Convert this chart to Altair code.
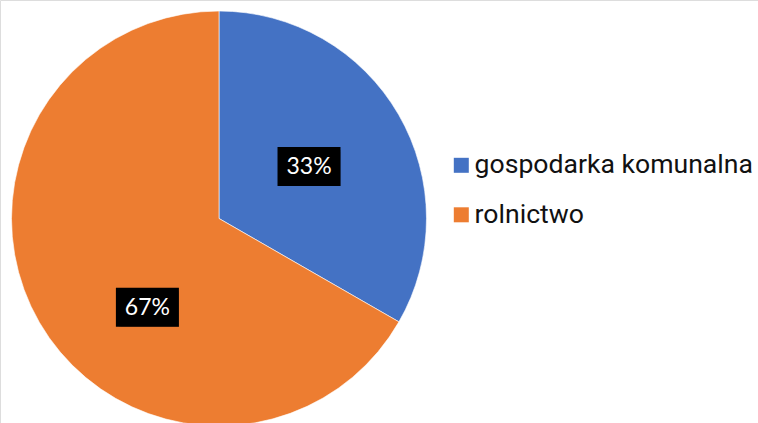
import altair as alt
import pandas as pd

# Share of each sector
sectors = ["gospodarka komunalna", "rolnictwo"]
shares = [33.3, 66.7]
colors = ["#4472C4", "#ED7D31"]

df = pd.DataFrame({"sektor": sectors, "udzial": shares, "kolejnosc": list(range(len(sectors)))})

CX, CY, R = 219, 218.5, 207.5

base = alt.Chart(df)

pie = base.mark_arc(outerRadius=R, x=CX, y=CY, stroke="white", strokeWidth=0.6).encode(
    theta=alt.Theta("udzial:Q", stack=True),
    order=alt.Order("kolejnosc:Q"),
    color=alt.Color(
        "sektor:N",
        scale=alt.Scale(domain=sectors, range=colors),
        sort=sectors,
        legend=alt.Legend(
            title=None,
            orient="none",
            legendX=448,
            legendY=152,
            symbolType="square",
            symbolSize=225,
            symbolStrokeWidth=0,
            symbolOpacity=1,
            labelFont="Roboto",
            labelFontSize=26.6,
            labelColor="#111111",
            labelOffset=0,
            rowPadding=22.5,
            padding=0,
            labelLimit=400,
        ),
    ),
)

# Label anchor points: mid-angle of each slice, nudged for the large slice
labels = (
    base.transform_joinaggregate(total="sum(udzial)")
    .transform_window(cum="sum(udzial)", sort=[alt.SortField("kolejnosc")], frame=[None, 0])
    .transform_calculate(
        pct="datum.udzial / datum.total",
        mid="(datum.cum - datum.udzial / 2) / datum.total * 2 * PI",
    )
    .transform_calculate(
        ang="datum.pct > 0.5 ? datum.mid - 0.367 : datum.mid",
        rad="datum.pct > 0.5 ? 114 : 104",
    )
    .transform_calculate(
        lx=f"{CX} + datum.rad * sin(datum.ang)",
        ly=f"{CY} - datum.rad * cos(datum.ang)",
    )
    .transform_calculate(
        bx0="datum.lx - 31.5",
        bx1="datum.lx + 31.5",
        by0="datum.ly - 19.5",
        by1="datum.ly + 19.5",
    )
)

shadow_outer = labels.mark_rect(color="#000000", opacity=0.12, xOffset=5, yOffset=5).encode(
    x=alt.X("bx0:Q", scale=None), x2="bx1:Q",
    y=alt.Y("by0:Q", scale=None), y2="by1:Q",
)
shadow_inner = labels.mark_rect(color="#000000", opacity=0.22, xOffset=3, yOffset=3).encode(
    x=alt.X("bx0:Q", scale=None), x2="bx1:Q",
    y=alt.Y("by0:Q", scale=None), y2="by1:Q",
)
box = labels.mark_rect(color="#000000").encode(
    x=alt.X("bx0:Q", scale=None), x2="bx1:Q",
    y=alt.Y("by0:Q", scale=None), y2="by1:Q",
)
text = labels.mark_text(
    font="Lato", fontSize=23, color="white", align="center", baseline="middle", dy=1
).encode(
    x=alt.X("lx:Q", scale=None),
    y=alt.Y("ly:Q", scale=None),
    text=alt.Text("pct:Q", format=".0%"),
)

chart = (
    alt.layer(pie, shadow_outer, shadow_inner, box, text)
    .properties(width=758, height=423, autosize=alt.AutoSizeParams(type="none"), padding=0)
    .configure_view(stroke=None)
    .configure(background="white")
)

chart.save("out.html", embed_options={"renderer": "svg", "actions": False})
